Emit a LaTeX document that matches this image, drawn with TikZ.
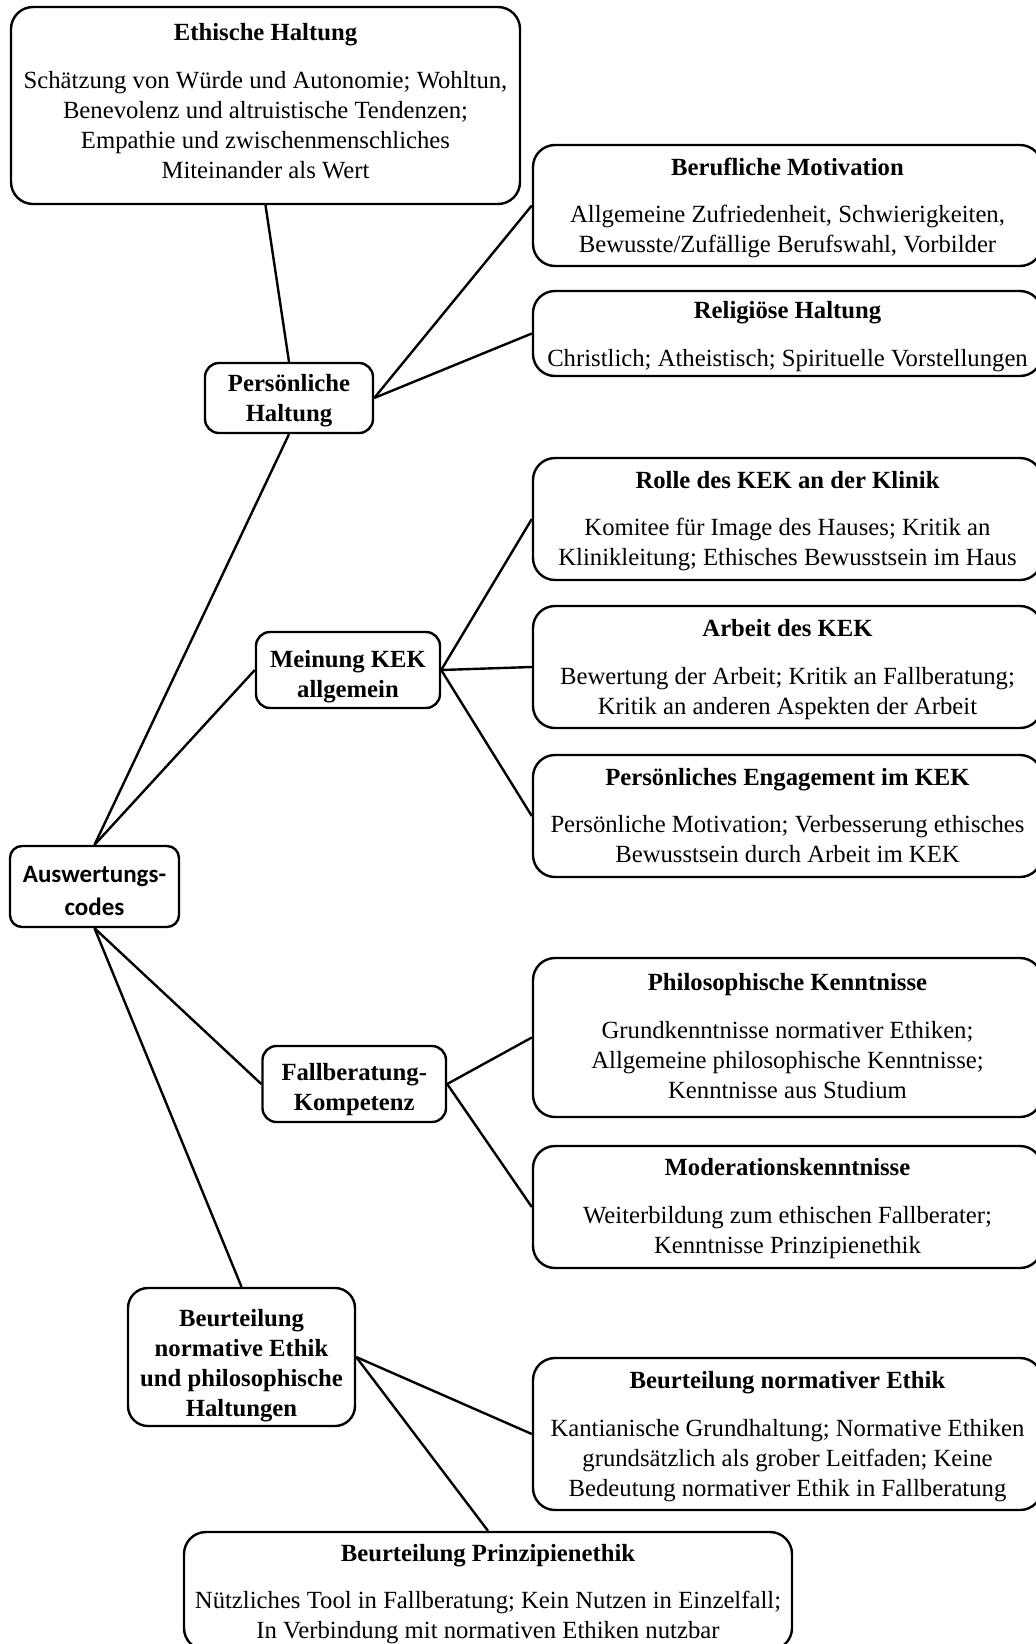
\documentclass[tikz,border=0pt]{standalone}
\usepackage{fontspec}
\setmainfont{Liberation Serif}
\newfontfamily\rootfont{Carlito}
\begin{document}
\begin{tikzpicture}[x=1pt,y=-1pt,
  conn/.style={line width=2.4pt},
  bigbox/.style={draw,line width=2.4pt,rounded corners=22pt,inner sep=0pt},
  smallbox/.style={draw,line width=2.4pt,rounded corners=14pt,inner sep=0pt},
  rootbox/.style={draw,line width=2.4pt,rounded corners=12pt,inner sep=0pt},
  bigtext/.style={inner sep=0pt,align=center,font=\fontsize{24.7}{30}\selectfont},
  smalltext/.style={inner sep=0pt,align=center,font=\fontsize{24.7}{30}\selectfont\bfseries},
  roottext/.style={inner sep=0pt,align=center,font=\rootfont\fontsize{25}{32.5}\selectfont\bfseries}]
\useasboundingbox (0,0) rectangle (1036,1644);
\clip (0,0) rectangle (1036,1644);

% boxes
\node[bigbox,minimum width=509pt,minimum height=197pt] (eth) at (265.5,105.5) {};
\node[bigbox,minimum width=509pt,minimum height=121pt] (beruf) at (787.5,205.5) {};
\node[bigbox,minimum width=509pt,minimum height=85pt] (relig) at (787.5,333.5) {};
\node[smallbox,minimum width=168pt,minimum height=70pt] (pers) at (289,398) {};
\node[bigbox,minimum width=509pt,minimum height=122pt] (rolle) at (787.5,519) {};
\node[bigbox,minimum width=509pt,minimum height=122pt] (arbeit) at (787.5,667) {};
\node[bigbox,minimum width=509pt,minimum height=122pt] (engag) at (787.5,816) {};
\node[smallbox,minimum width=184pt,minimum height=76pt] (mein) at (348,670) {};
\node[rootbox,minimum width=169pt,minimum height=81pt] (root) at (94.5,886.5) {};
\node[bigbox,minimum width=509pt,minimum height=159pt] (philo) at (787.5,1037.5) {};
\node[bigbox,minimum width=509pt,minimum height=122pt] (moder) at (787.5,1207) {};
\node[smallbox,minimum width=183.5pt,minimum height=76pt] (fall) at (354.25,1084) {};
\node[smallbox,rounded corners=20pt,minimum width=227pt,minimum height=138pt] (beurt) at (241.5,1357) {};
\node[bigbox,minimum width=509pt,minimum height=152pt] (norm) at (787.5,1434) {};
\node[bigbox,minimum width=608pt,minimum height=118pt] (prinz) at (488,1591) {};

% texts
\node[bigtext] (ethT) at ([yshift=4.2pt]eth.center)
  {\textbf{Ethische Haltung}\\[17.5pt]Schätzung von Würde und Autonomie; Wohltun,\\Benevolenz und altruistische Tendenzen;\\Empathie und zwischenmenschliches\\Miteinander als Wert};
\node[bigtext] (berufT) at ([yshift=-2.6pt]beruf.center)
  {\textbf{Berufliche Motivation}\\[17.5pt]Allgemeine Zufriedenheit, Schwierigkeiten,\\Bewusste/Zufällige Berufswahl, Vorbilder};
\node[bigtext] (religT) at ([yshift=-3.1pt]relig.center)
  {\textbf{Religiöse Haltung}\\[17.5pt]Christlich; Atheistisch; Spirituelle Vorstellungen};
\node[smalltext] (persT) at ([yshift=-2.6pt]pers.center) {Persönliche\\Haltung};
\node[bigtext] (rolleT) at ([yshift=-2.1pt]rolle.center)
  {\textbf{Rolle des KEK an der Klinik}\\[17.5pt]Komitee für Image des Hauses; Kritik an\\Klinikleitung; Ethisches Bewusstsein im Haus};
\node[bigtext] (arbeitT) at ([yshift=-2.6pt]arbeit.center)
  {\textbf{Arbeit des KEK}\\[17.5pt]Bewertung der Arbeit; Kritik an Fallberatung;\\Kritik an anderen Aspekten der Arbeit};
\node[bigtext] (engagT) at ([yshift=0.5pt]engag.center)
  {\textbf{Persönliches Engagement im KEK}\\[17.5pt]Persönliche Motivation; Verbesserung ethisches\\Bewusstsein durch Arbeit im KEK};
\node[smalltext] (meinT) at ([yshift=-6.3pt]mein.center) {Meinung KEK\\allgemein};
\node[roottext] (rootT) at ([yshift=-4.7pt]root.center) {Auswertungs-\\codes};
\node[bigtext] (philoT) at ([yshift=1.6pt]philo.center)
  {\textbf{Philosophische Kenntnisse}\\[17.5pt]Grundkenntnisse normativer Ethiken;\\Allgemeine philosophische Kenntnisse;\\Kenntnisse aus Studium};
\node[bigtext] (moderT) at ([yshift=-1.6pt]moder.center)
  {\textbf{Moderationskenntnisse}\\[17.5pt]Weiterbildung zum ethischen Fallberater;\\Kenntnisse Prinzipienethik};
\node[smalltext] (fallT) at ([yshift=-5.2pt]fall.center) {Fallberatung-\\Kompetenz};
\node[smalltext] (beurtT) at ([yshift=-8.4pt]beurt.center)
  {Beurteilung\\normative Ethik\\und philosophische\\Haltungen};
\node[bigtext] (normT) at ([yshift=-2.6pt]norm.center)
  {\textbf{Beurteilung normativer Ethik}\\[17.5pt]Kantianische Grundhaltung; Normative Ethiken\\grundsätzlich als grober Leitfaden; Keine\\Bedeutung normativer Ethik in Fallberatung};
\node[bigtext] (prinzT) at ([yshift=-3.1pt]prinz.center)
  {\textbf{Beurteilung Prinzipienethik}\\[17.5pt]Nützliches Tool in Fallberatung; Kein Nutzen in Einzelfall;\\In Verbindung mit normativen Ethiken nutzbar};

% connectors
\draw[conn] (eth.south) -- (pers.north);
\draw[conn] (pers.east) -- (beruf.west);
\draw[conn] (pers.east) -- (relig.west);
\draw[conn] (root.north) -- (pers.south);
\draw[conn] (root.north) -- (mein.west);
\draw[conn] (mein.east) -- (rolle.west);
\draw[conn] (mein.east) -- (arbeit.west);
\draw[conn] (mein.east) -- (engag.west);
\draw[conn] (root.south) -- (fall.west);
\draw[conn] (root.south) -- (beurt.north);
\draw[conn] (fall.east) -- (philo.west);
\draw[conn] (fall.east) -- (moder.west);
\draw[conn] (beurt.east) -- (norm.west);
\draw[conn] (beurt.east) -- (prinz.north);
\end{tikzpicture}
\end{document}
